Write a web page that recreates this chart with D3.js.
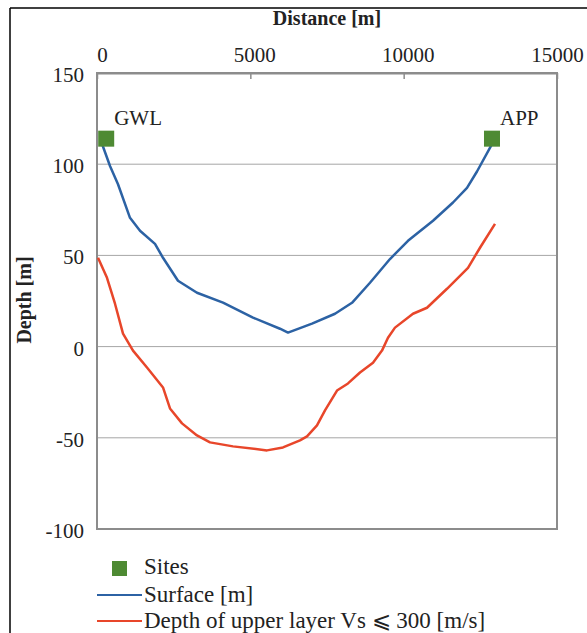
<!DOCTYPE html>
<html>
<head>
<meta charset="utf-8">
<script src="https://cdn.jsdelivr.net/npm/d3@7"></script>
<style>
body { margin: 0; background: #fff; }
text { font-family: "Liberation Serif", "Times New Roman", serif; fill: #222; }
</style>
</head>
<body>
<svg width="587" height="633"></svg>
<script>
// distance [m] / elevation [m]
var surfaceX = [130, 424, 685, 1076, 1402, 1891, 2152, 2641, 3261, 4109, 5087, 5967, 6228, 7011, 7761, 8315, 8902, 9554, 10141, 10957, 11609, 12065, 12391, 12880];
var surfaceY = [112.7, 99, 89, 70.6, 63.5, 56.3, 48.7, 36.1, 29.5, 24.1, 15.9, 9.8, 7.7, 12.6, 18, 24, 35, 48, 58, 69, 79, 87, 96, 111];

var layerX = [33, 326, 587, 848, 1174, 1630, 2152, 2380, 2772, 3261, 3685, 4435, 5543, 6065, 6620, 6848, 7174, 7435, 7826, 8185, 8576, 9000, 9293, 9489, 9717, 10304, 10761, 11413, 12098, 12489, 12978];
var layerY = [48.7, 37.7, 23.5, 7.1, -2.2, -11.5, -22.4, -33.9, -42.1, -48.7, -52.5, -54.7, -56.9, -55.3, -51.4, -49.2, -43.2, -35, -24.1, -20.2, -14.2, -8.8, -2.2, 4.9, 10.4, 18, 21.3, 31.7, 43.2, 54.2, 67.3];

var siteNames = ["GWL", "APP"];
var siteX = [300, 12880];
var siteY = [114, 114];

var xTicks = [0, 5000, 10000, 15000];
var yTicks = [150, 100, 50, 0, -50, -100];

var svg = d3.select("svg");

var x = d3.scaleLinear().domain([0, 15000]).range([97, 557]);
var y = d3.scaleLinear().domain([-100, 150]).range([529, 73]);

// outer frame
svg.append("line").attr("x1", 10).attr("y1", 8).attr("x2", 587).attr("y2", 8)
    .attr("stroke", "#000").attr("stroke-width", 1.5);
svg.append("line").attr("x1", 10).attr("y1", 8).attr("x2", 10).attr("y2", 633)
    .attr("stroke", "#000").attr("stroke-width", 1.5);

// gridlines
svg.append("g").selectAll("line")
    .data(yTicks.slice(1, -1))
    .enter().append("line")
    .attr("x1", x(0)).attr("x2", x(15000))
    .attr("y1", function(d) { return y(d); })
    .attr("y2", function(d) { return y(d); })
    .attr("stroke", "#a6a6a6").attr("stroke-width", 1);

// plot box
svg.append("rect")
    .attr("x", x(0)).attr("y", y(150))
    .attr("width", x(15000) - x(0)).attr("height", y(-100) - y(150))
    .attr("fill", "none").attr("stroke", "#8c8c8c").attr("stroke-width", 2);

// top axis
var xAxis = svg.append("g")
    .attr("transform", "translate(0," + y(150) + ")")
    .call(d3.axisTop(x).tickValues(xTicks).tickFormat(function(d) { return String(d); })
        .tickSizeInner(-6).tickSizeOuter(0).tickPadding(11));
xAxis.select(".domain").attr("stroke", "#8c8c8c").attr("stroke-width", 2);
xAxis.selectAll(".tick line").attr("stroke", "#8c8c8c").attr("stroke-width", 1.5);
xAxis.selectAll(".tick text")
    .attr("font-family", "Liberation Serif").attr("font-size", 21).attr("fill", "#222")
    .attr("dx", function(d) { return d === 0 ? 5 : (d === 15000 ? 0 : 4); });

// left axis
var yAxis = svg.append("g")
    .attr("transform", "translate(" + x(0) + ",0)")
    .call(d3.axisLeft(y).tickValues(yTicks).tickFormat(function(d) { return String(d); })
        .tickSize(0).tickPadding(13));
yAxis.select(".domain").remove();
yAxis.selectAll(".tick text")
    .attr("font-family", "Liberation Serif").attr("font-size", 21).attr("fill", "#222")
    .attr("dy", "0.4em");

// axis titles
svg.append("text")
    .attr("x", 327).attr("y", 25)
    .attr("text-anchor", "middle")
    .attr("font-size", 20).attr("font-weight", "bold")
    .text("Distance [m]");

svg.append("text")
    .attr("transform", "translate(31,300) rotate(-90)")
    .attr("text-anchor", "middle")
    .attr("font-size", 20).attr("font-weight", "bold")
    .text("Depth [m]");

// lines
var line = d3.line()
    .x(function(d) { return x(d[0]); })
    .y(function(d) { return y(d[1]); });

svg.append("path")
    .datum(d3.zip(layerX, layerY))
    .attr("d", line)
    .attr("fill", "none").attr("stroke", "#e8462a").attr("stroke-width", 2.5)
    .attr("stroke-linejoin", "round");

svg.append("path")
    .datum(d3.zip(surfaceX, surfaceY))
    .attr("d", line)
    .attr("fill", "none").attr("stroke", "#2c62a4").attr("stroke-width", 2.5)
    .attr("stroke-linejoin", "round");

// sites
var sites = d3.zip(siteNames, siteX, siteY);
svg.append("g").selectAll("rect")
    .data(sites)
    .enter().append("rect")
    .attr("x", function(d) { return x(d[1]) - 8; })
    .attr("y", function(d) { return y(d[2]) - 8; })
    .attr("width", 16).attr("height", 16)
    .attr("fill", "#4e8a33");

svg.append("g").selectAll("text")
    .data(sites)
    .enter().append("text")
    .attr("x", function(d) { return x(d[1]) + 8; })
    .attr("y", function(d) { return y(d[2]) - 14; })
    .attr("font-size", 21)
    .text(function(d) { return d[0]; });

// legend
var legend = svg.append("g").attr("font-size", 23);
legend.append("rect").attr("x", 112).attr("y", 561).attr("width", 15).attr("height", 15).attr("fill", "#4e8a33");
legend.append("text").attr("x", 144).attr("y", 574).text("Sites");
legend.append("line").attr("x1", 97).attr("x2", 142).attr("y1", 595).attr("y2", 595)
    .attr("stroke", "#2c62a4").attr("stroke-width", 2);
legend.append("text").attr("x", 144).attr("y", 602).text("Surface [m]");
legend.append("line").attr("x1", 97).attr("x2", 142).attr("y1", 621).attr("y2", 621)
    .attr("stroke", "#e8462a").attr("stroke-width", 2);
legend.append("text").attr("x", 144).attr("y", 628).text("Depth of upper layer Vs \u2A7D 300 [m/s]");
</script>
</body>
</html>
